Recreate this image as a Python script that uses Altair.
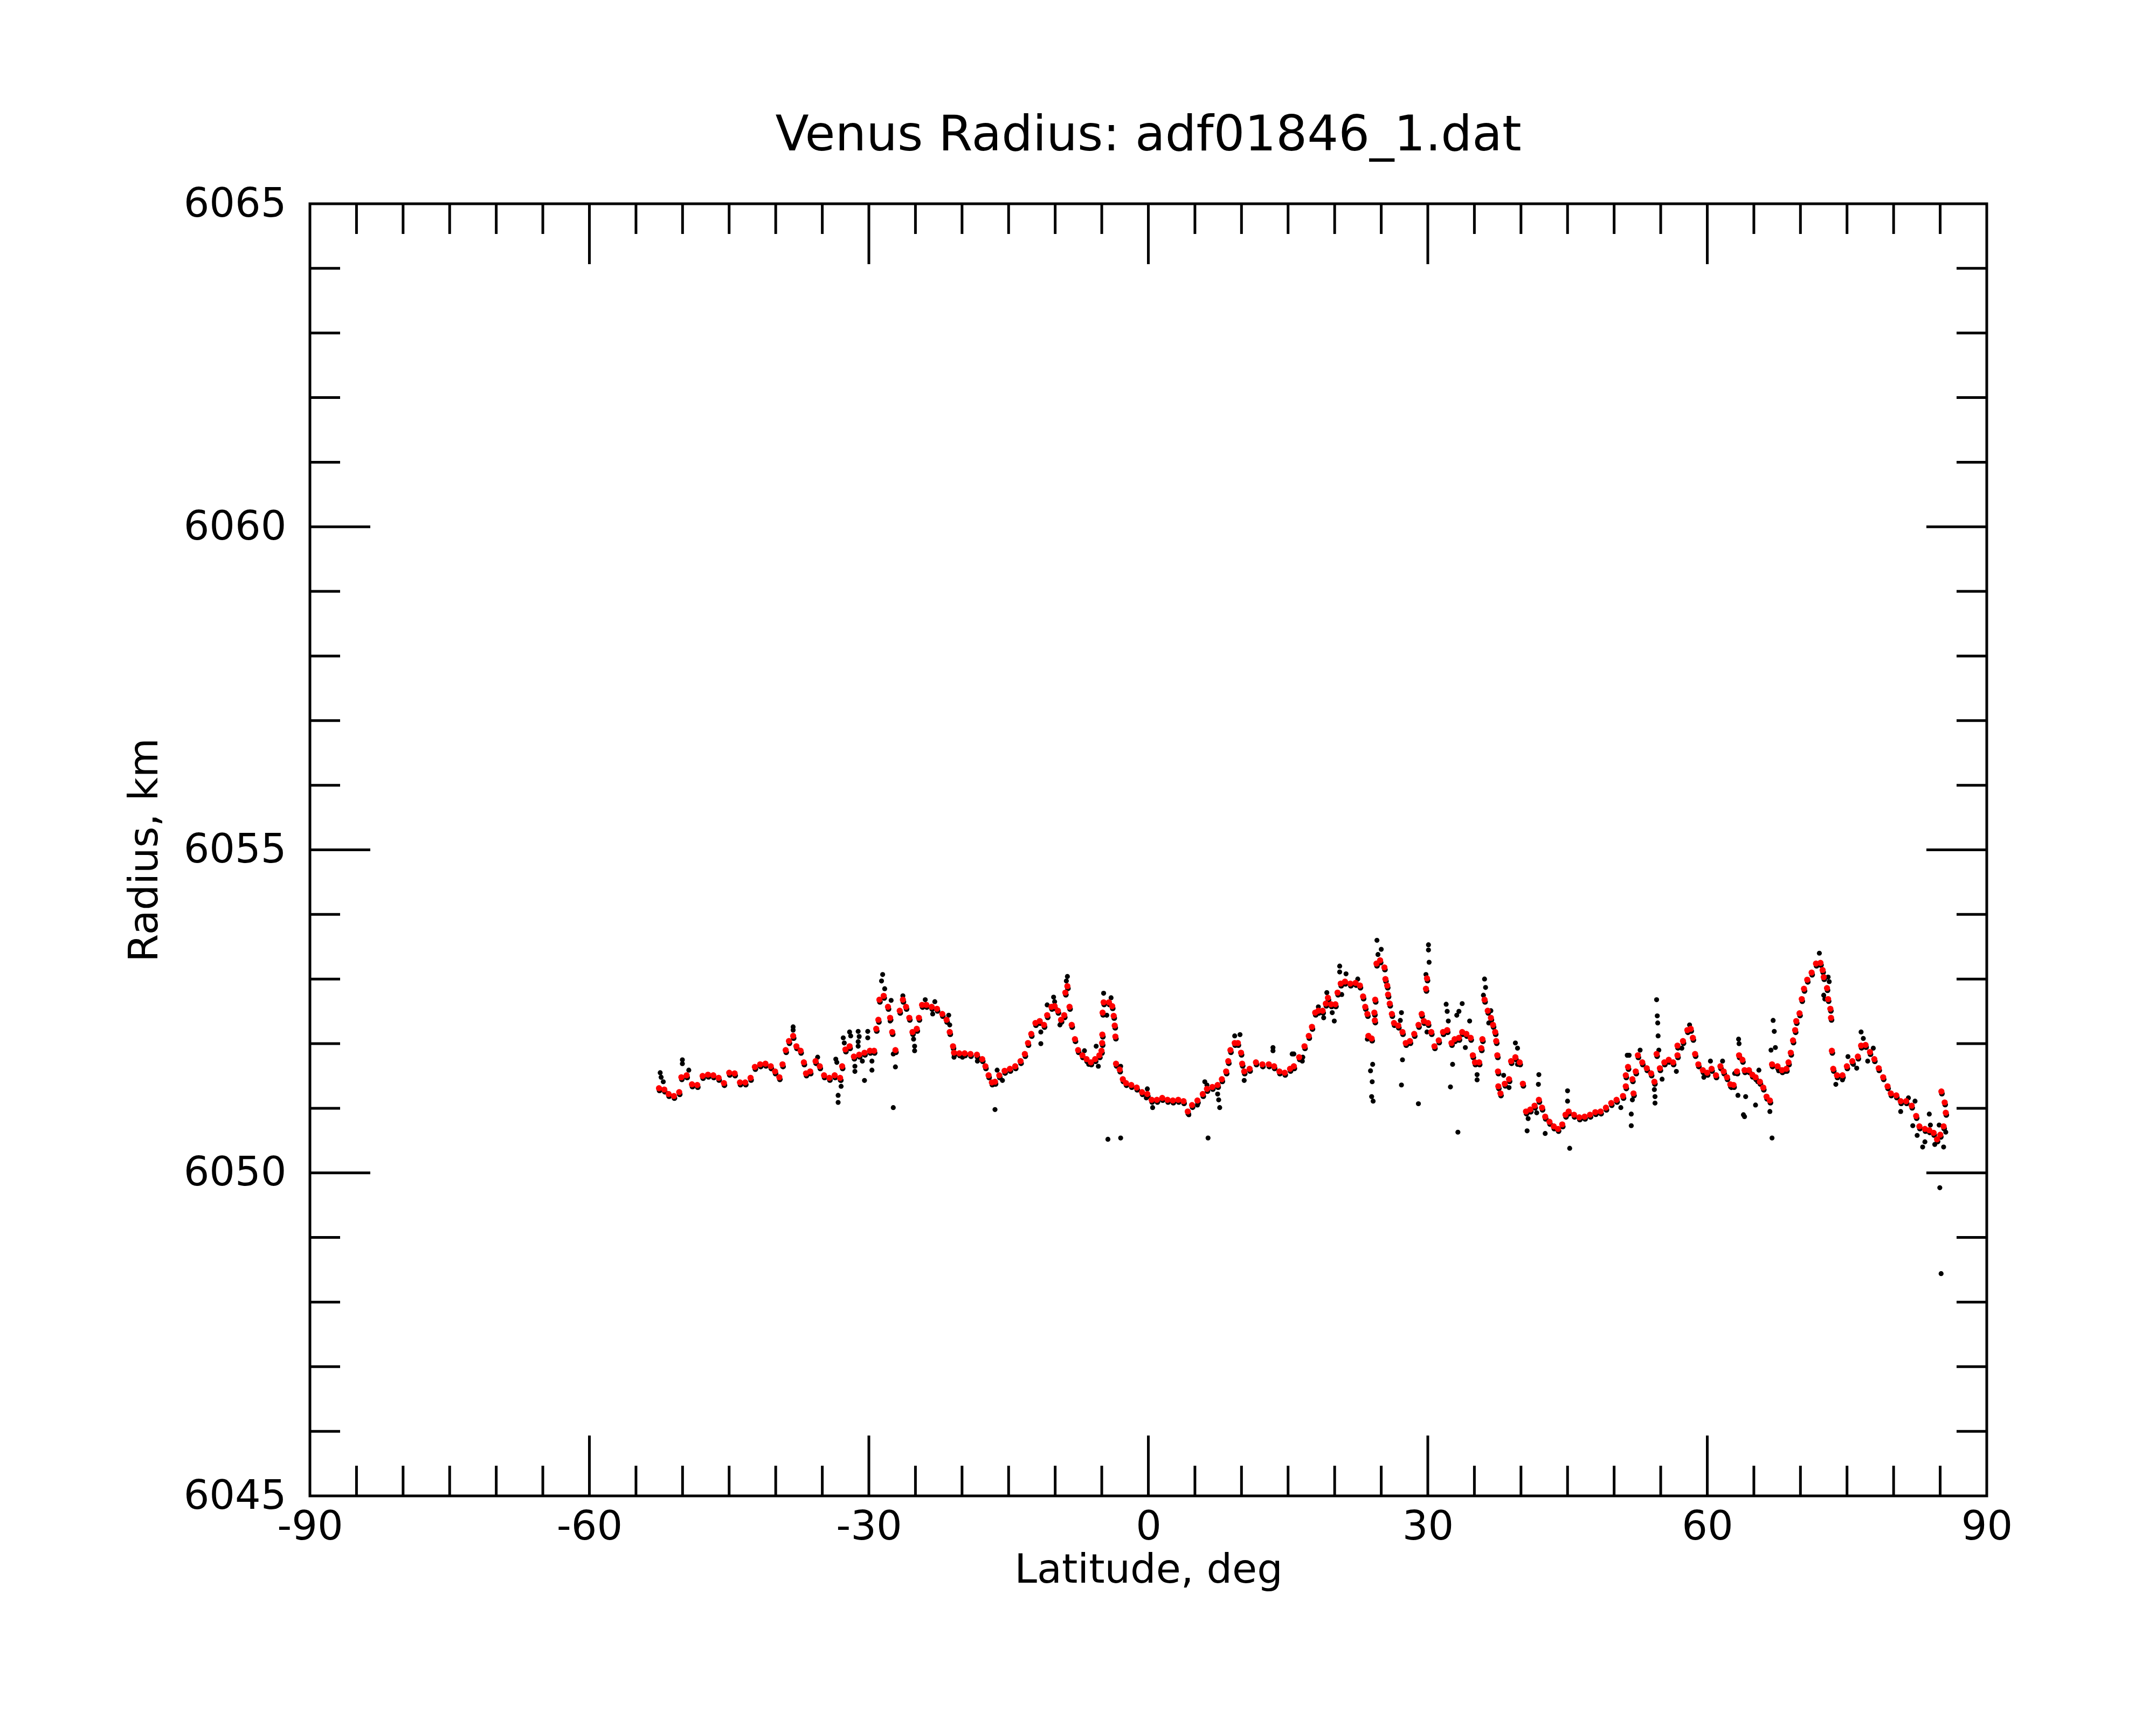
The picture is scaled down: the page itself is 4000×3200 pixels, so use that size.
import altair as alt
import pandas as pd

# ---------------- data ----------------
red_south = [
    (-52.53, 6051.31), (-51.96, 6051.29), (-51.50, 6051.22), (-50.93, 6051.19), (-50.36, 6051.25),
    (-50.13, 6051.48), (-49.56, 6051.51), (-48.99, 6051.37), (-48.42, 6051.36), (-47.85, 6051.50),
    (-47.27, 6051.52), (-46.70, 6051.51), (-46.13, 6051.47), (-45.56, 6051.39), (-44.99, 6051.55),
    (-44.41, 6051.54), (-43.84, 6051.40), (-43.27, 6051.40), (-42.70, 6051.47), (-42.24, 6051.64),
    (-41.67, 6051.68), (-41.10, 6051.69), (-40.53, 6051.65), (-40.07, 6051.57), (-39.61, 6051.48),
    (-39.27, 6051.68), (-38.93, 6051.90), (-38.58, 6052.04), (-38.13, 6052.12), (-37.78, 6051.96),
    (-37.33, 6051.89), (-36.98, 6051.71), (-36.75, 6051.54), (-36.30, 6051.57), (-35.72, 6051.73),
    (-35.27, 6051.65), (-34.81, 6051.51), (-34.24, 6051.47), (-33.67, 6051.51), (-33.09, 6051.47),
    (-32.87, 6051.65), (-32.52, 6051.91), (-32.07, 6051.96), (-31.61, 6051.80), (-31.04, 6051.83),
    (-30.47, 6051.86), (-29.89, 6051.89), (-29.44, 6051.89), (-29.21, 6052.23), (-28.98, 6052.37),
    (-28.87, 6052.68), (-28.41, 6052.74), (-27.95, 6052.57), (-27.72, 6052.40), (-27.50, 6052.18),
    (-27.15, 6051.90), (-26.69, 6052.51), (-26.35, 6052.68), (-26.01, 6052.57), (-25.66, 6052.40),
    (-25.32, 6052.18), (-24.86, 6052.23), (-24.63, 6052.40), (-24.29, 6052.60), (-23.83, 6052.60),
    (-23.26, 6052.57), (-22.69, 6052.54), (-22.12, 6052.46), (-21.66, 6052.37), (-21.32, 6052.18),
    (-20.97, 6051.96), (-20.86, 6051.86), (-20.29, 6051.85), (-19.72, 6051.85),
]

red_equator = [
    (-19.09, 6051.84), (-18.40, 6051.83), (-17.83, 6051.76), (-17.49, 6051.65), (-17.15, 6051.51),
    (-16.80, 6051.40), (-16.46, 6051.41), (-16.00, 6051.51), (-15.43, 6051.58), (-14.86, 6051.61),
    (-14.29, 6051.65), (-13.72, 6051.73), (-13.26, 6051.84), (-12.92, 6052.01), (-12.57, 6052.15),
    (-12.12, 6052.32), (-11.66, 6052.35), (-11.20, 6052.29), (-10.86, 6052.44), (-10.40, 6052.57),
    (-10.06, 6052.58), (-9.71, 6052.51), (-9.37, 6052.37), (-9.03, 6052.44), (-8.91, 6052.79),
    (-8.69, 6052.89), (-8.46, 6052.57), (-8.23, 6052.29), (-7.88, 6052.07), (-7.54, 6051.90),
    (-7.08, 6051.82), (-6.63, 6051.76), (-6.17, 6051.71), (-5.71, 6051.76), (-5.26, 6051.82),
    (-5.03, 6051.89), (-4.96, 6052.01), (-4.94, 6052.14), (-4.91, 6052.48), (-4.80, 6052.64),
    (-4.23, 6052.64), (-3.88, 6052.58), (-3.72, 6052.43), (-3.61, 6052.28), (-3.54, 6052.11),
    (-3.47, 6051.69), (-3.08, 6051.60), (-2.74, 6051.45), (-2.40, 6051.39), (-1.83, 6051.36),
    (-1.25, 6051.32), (-0.68, 6051.25), (-0.11, 6051.22), (0.35, 6051.13), (0.92, 6051.13),
    (1.49, 6051.16), (2.06, 6051.13), (2.63, 6051.12), (3.21, 6051.13), (3.78, 6051.11),
    (4.23, 6050.95), (4.69, 6051.05), (5.27, 6051.12), (5.84, 6051.22), (6.29, 6051.30),
    (6.87, 6051.33), (7.44, 6051.36), (7.89, 6051.45), (8.35, 6051.57), (8.58, 6051.73),
    (8.81, 6051.90), (9.27, 6052.01), (9.61, 6052.01), (9.95, 6051.86), (10.07, 6051.69),
    (10.29, 6051.57), (10.87, 6051.61), (11.55, 6051.71), (12.24, 6051.68), (12.93, 6051.68),
    (13.50, 6051.65), (14.07, 6051.57), (14.64, 6051.55), (15.21, 6051.61),
]

red_north = [
    (15.62, 6051.65), (16.19, 6051.79), (16.76, 6051.96), (17.22, 6052.12), (17.56, 6052.26),
    (17.91, 6052.48), (18.25, 6052.51), (18.71, 6052.51), (19.05, 6052.62), (19.28, 6052.71),
    (19.62, 6052.61), (20.08, 6052.61), (20.31, 6052.79), (20.65, 6052.93), (21.11, 6052.96),
    (21.68, 6052.93), (22.25, 6052.94), (22.71, 6052.90), (23.05, 6052.73), (23.28, 6052.57),
    (23.51, 6052.46), (23.62, 6052.12), (23.97, 6052.08), (24.31, 6052.36), (24.26, 6052.48),
    (24.35, 6052.68), (24.49, 6053.24), (24.88, 6053.29), (25.34, 6053.18), (25.45, 6053.00),
    (25.64, 6052.90), (25.73, 6052.76), (25.91, 6052.62), (26.14, 6052.46), (26.37, 6052.32),
    (26.83, 6052.28), (27.28, 6052.18), (27.63, 6052.01), (28.08, 6052.04), (28.54, 6052.15),
    (29.00, 6052.29), (29.34, 6052.46), (29.57, 6052.35), (29.80, 6052.85), (29.91, 6053.01),
    (30.03, 6052.32), (30.37, 6052.18), (30.71, 6051.96), (31.17, 6052.05), (31.63, 6052.18),
    (32.08, 6052.21), (32.54, 6052.01), (32.88, 6052.07), (33.34, 6052.09), (33.69, 6052.18),
    (34.14, 6052.15), (34.60, 6052.09), (34.83, 6051.82), (35.06, 6051.71), (35.51, 6051.71),
    (35.74, 6051.93), (35.86, 6052.07), (36.09, 6052.68), (36.43, 6052.51), (36.77, 6052.40),
    (37.00, 6052.29), (37.23, 6052.18), (37.34, 6052.04), (37.46, 6051.82), (37.53, 6051.57),
    (37.57, 6051.34), (37.80, 6051.23), (38.26, 6051.38), (38.72, 6051.45), (38.94, 6051.73),
    (39.40, 6051.79), (39.86, 6051.71), (40.20, 6051.38), (40.54, 6050.95), (41.00, 6050.98),
    (41.46, 6051.04), (41.92, 6051.13), (42.26, 6051.01), (42.60, 6050.87), (43.06, 6050.79),
    (43.52, 6050.72), (43.98, 6050.68), (44.43, 6050.75), (44.78, 6050.90), (45.12, 6050.95),
    (45.69, 6050.90), (46.26, 6050.86), (46.83, 6050.87), (47.41, 6050.90), (47.98, 6050.94),
    (48.55, 6050.95), (49.12, 6051.01), (49.69, 6051.08), (50.26, 6051.13), (50.95, 6051.19),
]

red_polar = [
    (51.25, 6051.34), (51.25, 6051.51), (51.49, 6051.64), (51.96, 6051.45), (52.08, 6051.23),
    (52.32, 6051.57), (52.55, 6051.82), (53.02, 6051.71), (53.50, 6051.62), (53.97, 6051.54),
    (54.32, 6051.41), (54.56, 6051.84), (54.91, 6051.62), (55.39, 6051.71), (55.86, 6051.75),
    (56.33, 6051.71), (56.80, 6051.82), (56.80, 6051.97), (57.39, 6052.04), (57.86, 6052.21),
    (58.22, 6052.23), (58.45, 6052.09), (58.69, 6051.84), (59.04, 6051.68), (59.52, 6051.59),
    (59.99, 6051.55), (60.46, 6051.61), (60.93, 6051.51), (61.41, 6051.65), (61.76, 6051.57),
    (62.11, 6051.48), (62.47, 6051.37), (62.82, 6051.36), (63.18, 6051.57), (63.41, 6051.82),
    (63.77, 6051.75), (64.00, 6051.59), (64.47, 6051.59), (64.83, 6051.52), (65.18, 6051.48),
    (65.65, 6051.41), (66.01, 6051.32), (66.36, 6051.18), (66.72, 6051.12), (66.95, 6051.68),
    (67.54, 6051.65), (68.02, 6051.59), (68.49, 6051.61), (68.72, 6051.71), (68.96, 6051.86),
    (69.20, 6052.05), (69.43, 6052.21), (69.55, 6052.35), (69.90, 6052.47), (70.14, 6052.69),
    (70.38, 6052.85), (70.73, 6052.99), (71.20, 6053.10), (71.67, 6053.24), (72.15, 6053.25),
    (72.38, 6053.14), (72.50, 6053.03), (72.85, 6052.86), (72.97, 6052.69), (73.21, 6052.54),
    (73.28, 6052.40), (73.37, 6051.89), (73.52, 6051.61), (73.92, 6051.51), (74.51, 6051.51),
    (74.98, 6051.65), (75.57, 6051.73), (76.16, 6051.80), (76.51, 6051.97), (76.99, 6051.98),
    (77.46, 6051.87), (77.93, 6051.76), (78.40, 6051.62), (78.88, 6051.48), (79.35, 6051.34),
    (79.70, 6051.23), (80.29, 6051.20), (80.76, 6051.11), (81.35, 6051.11), (81.94, 6051.04),
    (82.42, 6050.88), (82.77, 6050.72), (83.36, 6050.68), (83.83, 6050.66), (84.30, 6050.62),
    (84.66, 6050.52), (85.01, 6050.59), (85.37, 6050.72), (85.60, 6050.93), (85.48, 6051.09),
    (85.13, 6051.26),
]

black_south = [
    (-52.40, 6051.55), (-52.30, 6051.48), (-52.07, 6051.41), (-50.02, 6051.75), (-50.02, 6051.69),
    (-49.33, 6051.59), (-38.13, 6052.26), (-38.13, 6052.21), (-35.50, 6051.79), (-33.55, 6051.76),
    (-33.44, 6051.71), (-33.30, 6051.20), (-33.30, 6051.09), (-32.98, 6051.43), (-32.98, 6051.34),
    (-32.75, 6052.09), (-32.64, 6052.01), (-32.07, 6052.18), (-31.95, 6052.12), (-31.50, 6051.65),
    (-31.50, 6051.57), (-31.15, 6052.19), (-31.04, 6052.11), (-31.15, 6052.03), (-31.15, 6051.96),
    (-30.70, 6051.73), (-30.47, 6051.43), (-30.12, 6052.19), (-30.12, 6052.09), (-29.67, 6051.73),
    (-29.67, 6051.59), (-28.52, 6053.07), (-28.64, 6052.97), (-28.30, 6052.85), (-27.61, 6052.67),
    (-27.72, 6052.35), (-27.38, 6051.84), (-27.15, 6051.64), (-27.38, 6051.01), (-26.35, 6052.74),
    (-25.20, 6052.07), (-25.09, 6051.96), (-25.09, 6051.89), (-23.95, 6052.68), (-22.92, 6052.65),
    (-23.15, 6052.46), (-21.43, 6052.44), (-21.32, 6052.29), (-20.86, 6051.79), (-19.95, 6051.79),
    (-18.35, 6051.73),
]

black_equator = [
    (-18.18, 6051.76), (-16.46, 6050.98), (-16.23, 6051.59), (-15.66, 6051.43), (-11.54, 6052.18),
    (-11.54, 6052.00), (-10.86, 6052.60), (-10.17, 6052.72), (-10.06, 6052.65), (-9.49, 6052.29),
    (-8.69, 6053.04), (-8.80, 6052.97), (-6.86, 6051.89), (-6.40, 6051.68), (-5.60, 6051.96),
    (-5.37, 6051.65), (-4.80, 6052.78), (-4.46, 6052.44), (-4.00, 6052.71), (-4.34, 6050.52),
    (-2.97, 6050.54), (-2.97, 6051.65), (-0.11, 6051.30), (-0.22, 6051.16), (0.46, 6051.01),
    (4.35, 6050.90), (5.27, 6051.05), (6.06, 6051.41), (6.29, 6051.36), (6.41, 6050.54),
    (7.44, 6051.22), (7.55, 6051.13), (7.66, 6051.01), (9.27, 6052.12), (9.84, 6052.14),
    (10.29, 6051.43), (13.38, 6051.94), (13.38, 6051.89), (15.44, 6051.84), (16.58, 6051.79),
]

black_north = [
    (15.62, 6051.84), (16.53, 6051.73), (18.25, 6052.57), (18.82, 6052.40), (19.16, 6052.79),
    (19.74, 6052.48), (19.96, 6052.35), (20.54, 6053.20), (20.54, 6053.11), (21.22, 6053.08),
    (20.76, 6052.76), (22.48, 6053.00), (23.51, 6052.07), (24.08, 6051.68), (23.85, 6051.58),
    (24.03, 6051.41), (23.97, 6051.18), (24.13, 6051.11), (24.54, 6053.60), (25.00, 6053.46),
    (24.65, 6053.38), (27.17, 6052.48), (27.05, 6052.36), (27.28, 6051.75), (27.17, 6051.36),
    (28.99, 6051.07), (30.07, 6053.53), (30.07, 6053.45), (30.14, 6053.26), (29.80, 6053.07),
    (29.91, 6052.18), (31.97, 6052.61), (32.08, 6052.50), (32.20, 6052.35), (32.66, 6051.68),
    (32.43, 6051.33), (33.23, 6050.63), (33.69, 6052.62), (33.34, 6052.50), (33.11, 6052.44),
    (34.49, 6052.35), (34.03, 6051.94), (35.29, 6051.52), (35.29, 6051.44), (36.09, 6053.00),
    (36.20, 6052.87), (35.97, 6052.75), (36.54, 6052.32), (36.77, 6052.51), (38.14, 6051.51),
    (38.72, 6051.32), (39.40, 6052.01), (39.63, 6051.93), (39.63, 6051.68), (40.77, 6050.84),
    (40.66, 6050.65), (41.92, 6051.52), (41.87, 6051.37), (41.69, 6050.93), (42.60, 6050.61),
    (45.00, 6051.27), (45.00, 6051.11), (45.23, 6050.38), (50.72, 6051.01), (51.41, 6051.82),
]

black_polar = [
    (51.61, 6051.82), (51.84, 6050.91), (51.84, 6050.73), (51.96, 6051.13), (52.79, 6051.90),
    (54.56, 6052.68), (54.63, 6052.43), (54.68, 6052.32), (54.72, 6052.12), (54.32, 6051.29),
    (54.39, 6051.18), (54.39, 6051.08), (54.80, 6051.90), (55.15, 6051.45), (56.68, 6051.57),
    (57.27, 6051.93), (58.10, 6052.29), (59.63, 6051.48), (60.34, 6051.73), (61.64, 6051.73),
    (62.59, 6051.32), (62.94, 6051.54), (63.36, 6052.07), (63.41, 6052.00), (63.29, 6051.20),
    (64.12, 6051.18), (63.88, 6050.90), (64.00, 6050.87), (65.18, 6051.05), (65.54, 6051.59),
    (65.42, 6051.41), (66.72, 6050.95), (66.95, 6050.54), (67.07, 6052.36), (67.19, 6052.19),
    (67.31, 6051.94), (66.84, 6051.90), (67.66, 6051.58), (68.37, 6051.57), (72.03, 6053.40),
    (72.97, 6053.03), (73.09, 6052.96), (72.50, 6052.75), (72.62, 6052.69), (73.80, 6051.37),
    (74.51, 6051.44), (75.10, 6051.80), (75.69, 6051.68), (76.04, 6051.62), (76.51, 6052.18),
    (76.75, 6052.08), (77.22, 6051.73), (77.82, 6051.93), (80.76, 6050.95), (81.59, 6051.16),
    (82.30, 6051.11), (82.06, 6050.73), (82.53, 6050.58), (83.12, 6050.40), (83.36, 6050.48),
    (83.83, 6050.91), (83.95, 6050.74), (84.42, 6050.44), (84.89, 6050.74), (85.37, 6050.40),
    (85.60, 6050.63), (84.96, 6049.77), (85.10, 6048.44),
]

x_labels = [-90, -60, -30, 0, 30, 60, 90]
y_labels = [6045, 6050, 6055, 6060, 6065]
x_minor = [v for v in range(-85, 90, 5) if v % 30 != 0]
x_major = [-60, -30, 0, 30, 60]
y_minor = [v for v in range(6046, 6065) if v % 5 != 0]
y_major = [6050, 6055, 6060]

TITLE = "Venus Radius: adf01846_1.dat"
FONT = "DejaVu Sans"

# ---------------- layout ----------------
W, H = 3111, 2397
MINOR, MAJOR = 56, 112
LINE_W = 5

red_df = pd.DataFrame(red_south + red_equator + red_north + red_polar, columns=["lat", "radius"])
black_df = pd.DataFrame(black_south + black_equator + black_north + black_polar, columns=["lat", "radius"])

xscale = alt.Scale(domain=[-90, 90], nice=False, zero=False)
yscale = alt.Scale(domain=[6045, 6065], nice=False, zero=False)

x_axis = alt.Axis(
    values=x_labels, labelExpr="'' + datum.value", title="Latitude, deg", grid=False, ticks=False,
    tickSize=0, domain=False, labelFont=FONT, labelFontSize=75, labelColor="black", labelPadding=21,
    labelFlush=False, labelOverlap=False, labelBound=False, labelLimit=0,
    titleFont=FONT, titleFontSize=75, titleFontWeight="normal", titleColor="black",
    titleBaseline="alphabetic", titleAlign="center", titleX=W / 2, titleY=160, titleLimit=0,
)
y_axis = alt.Axis(
    values=y_labels, labelExpr="'' + datum.value", title="Radius, km", grid=False, ticks=False,
    tickSize=0, domain=False, labelFont=FONT, labelFontSize=75, labelColor="black", labelPadding=44,
    labelFlush=False, labelOverlap=False, labelBound=False, labelBaseline="middle", labelLimit=0,
    titleFont=FONT, titleFontSize=75, titleFontWeight="normal", titleColor="black",
    titleBaseline="alphabetic", titleAlign="center", titleAngle=270, titleX=-284, titleY=H / 2,
    titleLimit=0,
)

X = alt.X("lat:Q", scale=xscale, axis=x_axis, title="Latitude, deg")
Y = alt.Y("radius:Q", scale=yscale, axis=y_axis, title="Radius, km")

shadow = alt.Chart(red_df).mark_circle(color="black", opacity=1, size=110, xOffset=1, yOffset=4).encode(x=X, y=Y)
raw = alt.Chart(black_df).mark_circle(color="black", opacity=1, size=85).encode(x=X, y=Y)
red = alt.Chart(red_df).mark_circle(color="#ff0000", opacity=1, size=130).encode(x=X, y=Y)


def xticks(values, length):
    df = pd.DataFrame({"lat": values})
    base = alt.Chart(df).mark_rule(color="black", strokeWidth=LINE_W)
    bottom = base.encode(x=X, y=alt.value(H), y2=alt.value(H - length))
    top = base.encode(x=X, y=alt.value(0), y2=alt.value(length))
    return [bottom, top]


def yticks(values, length):
    df = pd.DataFrame({"radius": values})
    base = alt.Chart(df).mark_rule(color="black", strokeWidth=LINE_W)
    left = base.encode(y=Y, x=alt.value(0), x2=alt.value(length))
    right = base.encode(y=Y, x=alt.value(W - length), x2=alt.value(W))
    return [left, right]


layers = [shadow, raw, red] + xticks(x_minor, MINOR) + xticks(x_major, MAJOR) + yticks(y_minor, MINOR) + yticks(y_major, MAJOR)

chart = alt.layer(*layers).properties(
    width=W,
    height=H,
    title=alt.TitleParams(
        text=TITLE, font=FONT, fontSize=91, fontWeight="normal", color="black",
        anchor="middle", baseline="alphabetic", offset=2, dy=31,
    ),
    autosize=alt.AutoSizeParams(type="none"),
    padding={"left": 567, "top": 370, "right": 306, "bottom": 417},
    background="white",
).configure_view(
    stroke="black", strokeWidth=LINE_W,
)

chart.save("out.html", embed_options={"renderer": "svg", "actions": False})
